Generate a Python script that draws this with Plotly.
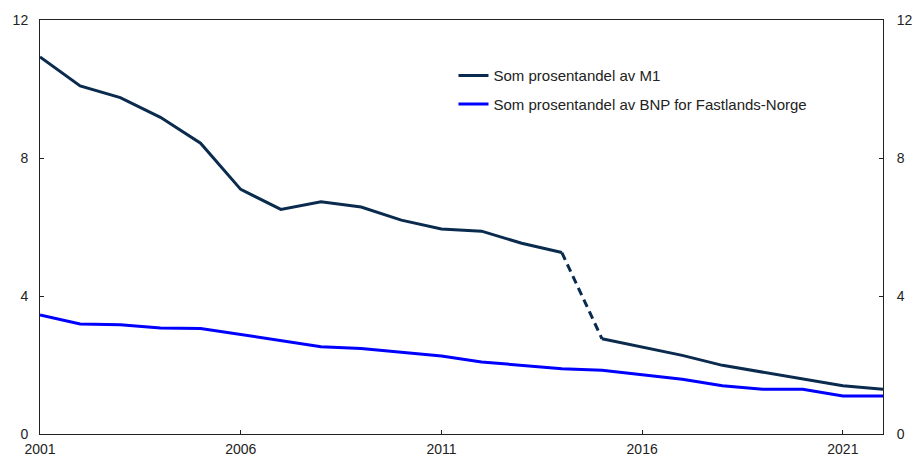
import plotly.graph_objects as go

years = list(range(2001, 2023))

# Share of M1 (per cent); break in the series between 2014 and 2015
m1_share = [10.93, 10.09, 9.75, 9.18, 8.43, 7.09, 6.51, 6.73, 6.58, 6.20, 5.94,
            5.88, 5.53, 5.26, 2.76, 2.53, 2.28, 1.99, 1.79, 1.59, 1.40, 1.30]
# Share of mainland GDP (per cent)
gdp_share = [3.45, 3.19, 3.17, 3.07, 3.06, 2.89, 2.70, 2.53, 2.48, 2.36, 2.26,
             2.09, 1.99, 1.89, 1.85, 1.73, 1.59, 1.40, 1.30, 1.30, 1.10, 1.10]

x_ticks = [2001, 2006, 2011, 2016, 2021]
y_ticks = [0, 4, 8, 12]

navy = "#0A2B4E"
blue = "#0000FF"
axis_col = "#222222"
font_family = "Liberation Sans, Arial, sans-serif"

break_idx = years.index(2014)

fig = go.Figure()

# M1 share: solid before the break
fig.add_trace(go.Scatter(
    x=years[:break_idx + 1], y=m1_share[:break_idx + 1],
    mode="lines", name="Som prosentandel av M1",
    line=dict(color=navy, width=3), legendgroup="m1",
))
# dashed link across the break
fig.add_trace(go.Scatter(
    x=years[break_idx:break_idx + 2], y=m1_share[break_idx:break_idx + 2],
    mode="lines", showlegend=False,
    line=dict(color=navy, width=3, dash="8px,5px"), legendgroup="m1",
))
# solid after the break
fig.add_trace(go.Scatter(
    x=years[break_idx + 1:], y=m1_share[break_idx + 1:],
    mode="lines", showlegend=False,
    line=dict(color=navy, width=3), legendgroup="m1",
))
fig.add_trace(go.Scatter(
    x=years, y=gdp_share,
    mode="lines", name="Som prosentandel av BNP for Fastlands-Norge",
    line=dict(color=blue, width=3), legendgroup="gdp",
))
# invisible trace to carry the right-hand axis
fig.add_trace(go.Scatter(
    x=[years[0]], y=[0], yaxis="y2", mode="lines",
    line=dict(width=0), showlegend=False, hoverinfo="skip",
))

fig.update_layout(
    width=916, height=459,
    margin=dict(l=40, r=33, t=20, b=25),
    paper_bgcolor="white", plot_bgcolor="white",
    font=dict(family=font_family, size=14, color=axis_col),
    showlegend=True,
    legend=dict(
        x=0.4905, y=0.905, xanchor="left", yanchor="top",
        bgcolor="rgba(0,0,0,0)", traceorder="grouped",
        tracegroupgap=6, font=dict(size=15, color=axis_col),
        itemwidth=30,
    ),
    xaxis=dict(
        range=[2001, 2022], tickvals=x_ticks, ticktext=[str(v) for v in x_ticks],
        ticks="inside", ticklen=4, tickcolor=axis_col,
        showline=True, linecolor=axis_col, linewidth=1, mirror=True,
        showgrid=False, zeroline=False, tickfont=dict(size=14),
        automargin=False, ticklabelstandoff=2,
    ),
    yaxis=dict(
        range=[0, 12], tickvals=y_ticks,
        ticks="inside", ticklen=4, tickcolor=axis_col,
        showline=True, linecolor=axis_col, linewidth=1,
        showgrid=False, zeroline=False, tickfont=dict(size=14),
        automargin=False, ticklabelstandoff=8,
    ),
    yaxis2=dict(
        range=[0, 12], tickvals=y_ticks, overlaying="y", side="right",
        ticks="inside", ticklen=4, tickcolor=axis_col,
        showline=True, linecolor=axis_col, linewidth=1,
        showgrid=False, zeroline=False, tickfont=dict(size=14),
        automargin=False, ticklabelstandoff=10,
    ),
)

fig.write_html("out.html")
